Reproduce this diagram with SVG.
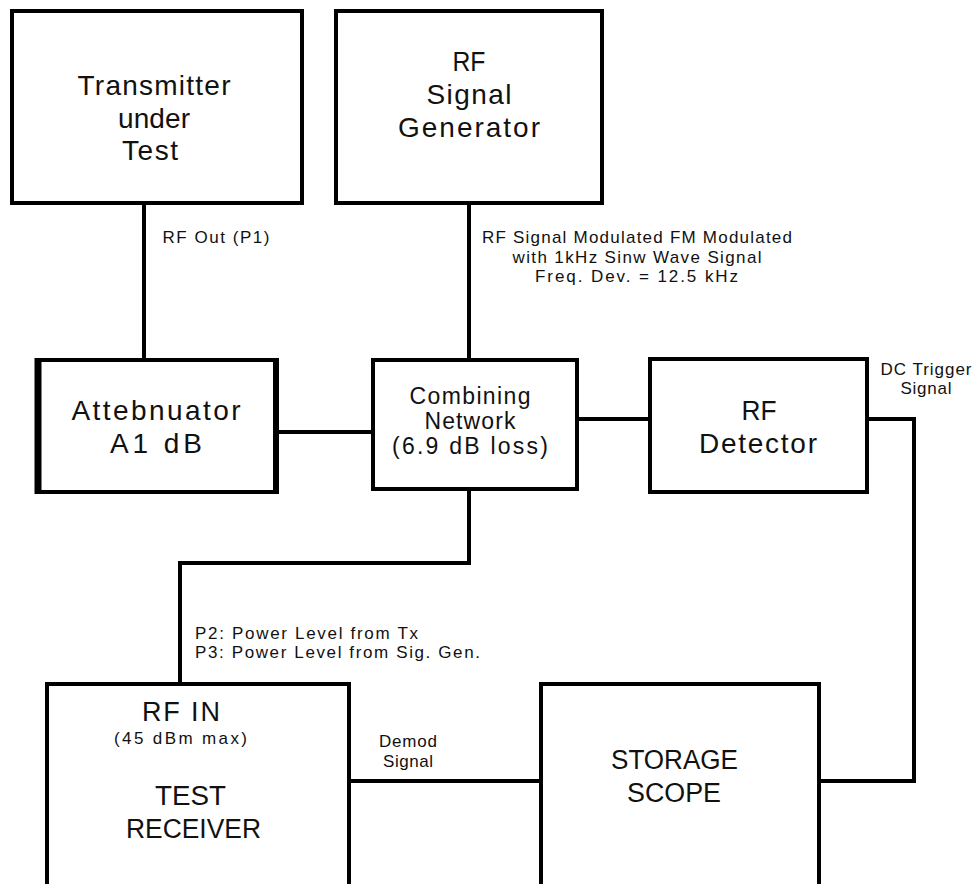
<svg xmlns="http://www.w3.org/2000/svg" width="976" height="884" viewBox="0 0 976 884">
<style>
.box{fill:#fff;stroke:#000;stroke-width:4}
.wire{fill:none;stroke:#000;stroke-width:4}
text{font-family:"Liberation Sans",Arial,sans-serif;fill:#111;text-anchor:middle}
.big{font-size:28px}
.cap{font-size:27px}
.mid{font-size:23px}
.sm{font-size:17px}
</style>
<rect width="976" height="884" fill="#fff"/>
<g id="connectors">
<line class="wire" x1="144" y1="203" x2="144" y2="360"/>
<line class="wire" x1="469" y1="203" x2="469" y2="360"/>
<line class="wire" x1="278" y1="432" x2="373" y2="432"/>
<line class="wire" x1="577" y1="419" x2="650" y2="419"/>
<polyline class="wire" points="469,489 469,563 180,563 180,684"/>
<polyline class="wire" points="867,419 914,419 914,781 818,781"/>
<line class="wire" x1="349" y1="781" x2="541" y2="781"/>
<text class="sm" x="216" y="243" textLength="107" lengthAdjust="spacing">RF Out (P1)</text>
<text class="sm" x="637" y="243" textLength="310" lengthAdjust="spacing">RF Signal Modulated FM Modulated</text>
<text class="sm" x="637" y="262.5" textLength="249" lengthAdjust="spacing">with 1kHz Sinw Wave Signal</text>
<text class="sm" x="636.5" y="282" textLength="203" lengthAdjust="spacing">Freq. Dev. = 12.5 kHz</text>
<text class="sm" x="926" y="375" textLength="91" lengthAdjust="spacing">DC Trigger</text>
<text class="sm" x="926" y="394" textLength="51" lengthAdjust="spacing">Signal</text>
<text class="sm" x="195" y="639" style="text-anchor:start" textLength="223" lengthAdjust="spacing">P2: Power Level from Tx</text>
<text class="sm" x="195" y="658" style="text-anchor:start" textLength="285" lengthAdjust="spacing">P3: Power Level from Sig. Gen.</text>
<text class="sm" x="408" y="747" textLength="58" lengthAdjust="spacing">Demod</text>
<text class="sm" x="408" y="767" textLength="50" lengthAdjust="spacing">Signal</text>
</g>
<g id="transmitter">
<rect class="box" x="12" y="11" width="290" height="192"/>
<text class="big" x="154" y="95" textLength="153" lengthAdjust="spacing">Transmitter</text>
<text class="big" x="154" y="128" textLength="72" lengthAdjust="spacing">under</text>
<text class="big" x="150" y="160" textLength="56" lengthAdjust="spacing">Test</text>
</g>
<g id="signal-generator">
<rect class="box" x="336" y="11" width="266" height="192"/>
<text class="cap" x="469" y="71" textLength="33" lengthAdjust="spacingAndGlyphs">RF</text>
<text class="big" x="469" y="104" textLength="85" lengthAdjust="spacing">Signal</text>
<text class="big" x="469" y="137" textLength="142" lengthAdjust="spacing">Generator</text>
</g>
<g id="attenuator">
<rect class="box" x="38" y="360" width="238" height="132"/>
<line x1="38" y1="358" x2="38" y2="494" stroke="#000" stroke-width="7"/>
<line x1="276" y1="358" x2="276" y2="494" stroke="#000" stroke-width="6"/>
<text class="big" x="156" y="420" textLength="169" lengthAdjust="spacing">Attebnuator</text>
<text class="big" x="156" y="453" textLength="92" lengthAdjust="spacing">A1 dB</text>
</g>
<g id="combining-network">
<rect class="box" x="373" y="360" width="204" height="129"/>
<text class="mid" x="470" y="404" textLength="121" lengthAdjust="spacing">Combining</text>
<text class="mid" x="470" y="429" textLength="91" lengthAdjust="spacing">Network</text>
<text class="mid" x="470" y="454" textLength="156" lengthAdjust="spacing">(6.9 dB loss)</text>
</g>
<g id="rf-detector">
<rect class="box" x="650" y="359" width="217" height="133"/>
<text class="cap" x="759" y="420" textLength="35" lengthAdjust="spacingAndGlyphs">RF</text>
<text class="big" x="758" y="453" textLength="118" lengthAdjust="spacing">Detector</text>
</g>
<g id="test-receiver">
<rect class="box" x="47" y="684" width="302" height="230"/>
<text class="cap" x="181" y="721" textLength="78" lengthAdjust="spacing">RF IN</text>
<text class="sm" x="180.5" y="744" textLength="133" lengthAdjust="spacing">(45 dBm max)</text>
<text class="cap" x="190.5" y="805" textLength="71" lengthAdjust="spacingAndGlyphs">TEST</text>
<text class="cap" x="193.5" y="838" textLength="135" lengthAdjust="spacingAndGlyphs">RECEIVER</text>
</g>
<g id="storage-scope">
<rect class="box" x="541" y="684" width="278" height="230"/>
<text class="cap" x="674.5" y="769" textLength="127" lengthAdjust="spacingAndGlyphs">STORAGE</text>
<text class="cap" x="674" y="802" textLength="94" lengthAdjust="spacingAndGlyphs">SCOPE</text>
</g>
</svg>
